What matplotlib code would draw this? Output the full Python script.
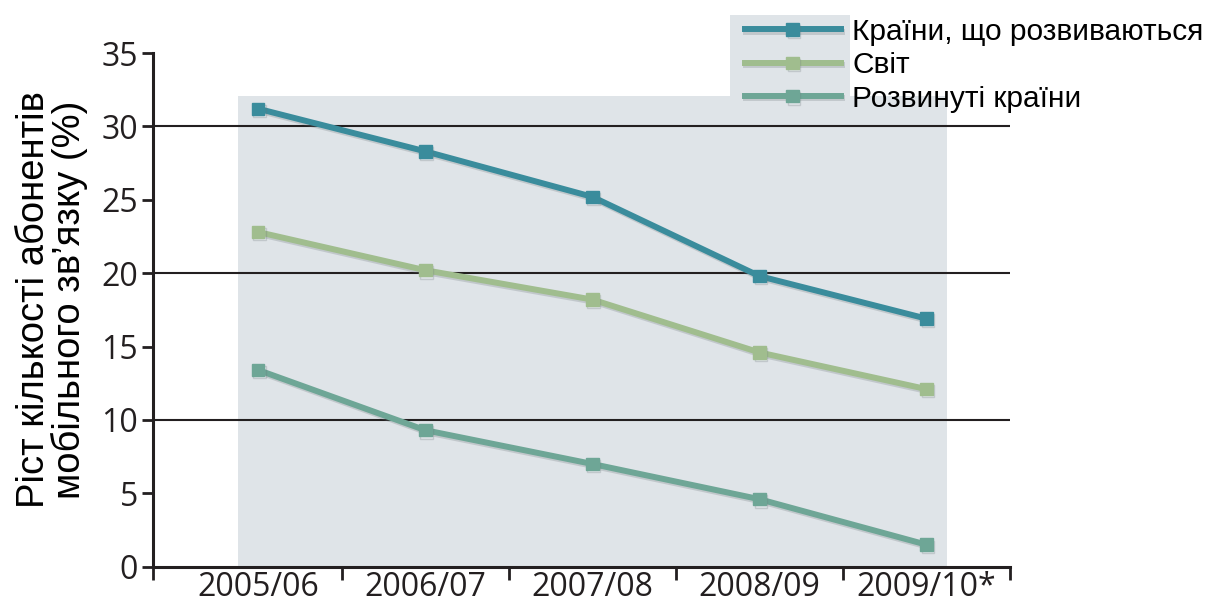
import matplotlib
matplotlib.use("Agg")
import matplotlib.pyplot as plt
import matplotlib.patheffects as pe
from matplotlib.patches import Rectangle

categories = ["2005/06", "2006/07", "2007/08", "2008/09", "2009/10*"]
developing = [31.2, 28.3, 25.2, 19.8, 16.9]
world = [22.8, 20.2, 18.2, 14.6, 12.1]
developed = [13.4, 9.3, 7.0, 4.6, 1.5]
series_labels = ["Країни, що розвиваються", "Світ", "Розвинуті країни"]
series_colors = ["#3a8c9c", "#a0bd8e", "#6ea696"]
yticks = [0, 5, 10, 15, 20, 25, 30, 35]
gridlines = [10, 20, 30]

fig = plt.figure(figsize=(12.08, 6.02), dpi=100)
ax = fig.add_axes([153/1208, 1-566.7/602, (1010-153)/1208, (566.7-53)/602])

x = list(range(len(categories)))
xleft, xright = -0.63, 4.5
ax.set_xlim(xleft, xright)
ax.set_ylim(0, 35)

# shaded background panel
ax.add_patch(Rectangle((-0.12, 0), 4.24, 32.05, facecolor="#dfe4e8", edgecolor="none", zorder=0))

for g in gridlines:
    ax.axhline(g, color="#231f20", lw=1.5, zorder=1)

shadow = [pe.SimpleLineShadow(offset=(1, -1.5), shadow_color="#6a7478", alpha=0.25), pe.Normal()]
for vals, lab, col in zip([developing, world, developed], series_labels, series_colors):
    ax.plot(x, vals, color=col, lw=4.3, marker="s", markersize=9, label=lab,
            zorder=3, path_effects=shadow)

for s in ["top", "right"]:
    ax.spines[s].set_visible(False)
for s in ["left", "bottom"]:
    ax.spines[s].set_linewidth(2.2)
    ax.spines[s].set_color("#231f20")

ax.set_yticks(yticks)
ax.set_yticklabels([str(v) for v in yticks], fontfamily="Open Sans", fontsize=23, color="#231f20")
ax.tick_params(axis="y", length=8, width=2, color="#231f20", pad=3)

ax.set_xticks(x)
ax.set_xticklabels(categories, fontfamily="Open Sans", fontsize=23, color="#231f20")
ax.set_xticks([xleft, 0.5, 1.5, 2.5, 3.5, 4.5], minor=True)
ax.tick_params(axis="x", which="major", length=0, pad=3)
ax.tick_params(axis="x", which="minor", length=9, width=2, color="#231f20")

ax.set_ylabel("Ріст кількості абонентів\nмобільного зв’язку (%)", fontfamily="Liberation Sans",
              fontsize=27.5, linespacing=0.95)
ax.yaxis.set_label_coords(-0.076, 0.52)

# legend handle backdrop
fig.patches.append(Rectangle((730/1208, 1-124/602), 120/1208, 109/602, transform=fig.transFigure,
                             facecolor="#dfe4e8", edgecolor="none", zorder=0))
leg = fig.legend(loc="upper left", bbox_to_anchor=(733/1208, 1-6/602), frameon=False,
                 prop={"family": "Liberation Sans", "size": 21.5}, handlelength=3.2,
                 handletextpad=0.4, labelspacing=0.18, borderaxespad=0)

fig.savefig("out.png", dpi=100)
